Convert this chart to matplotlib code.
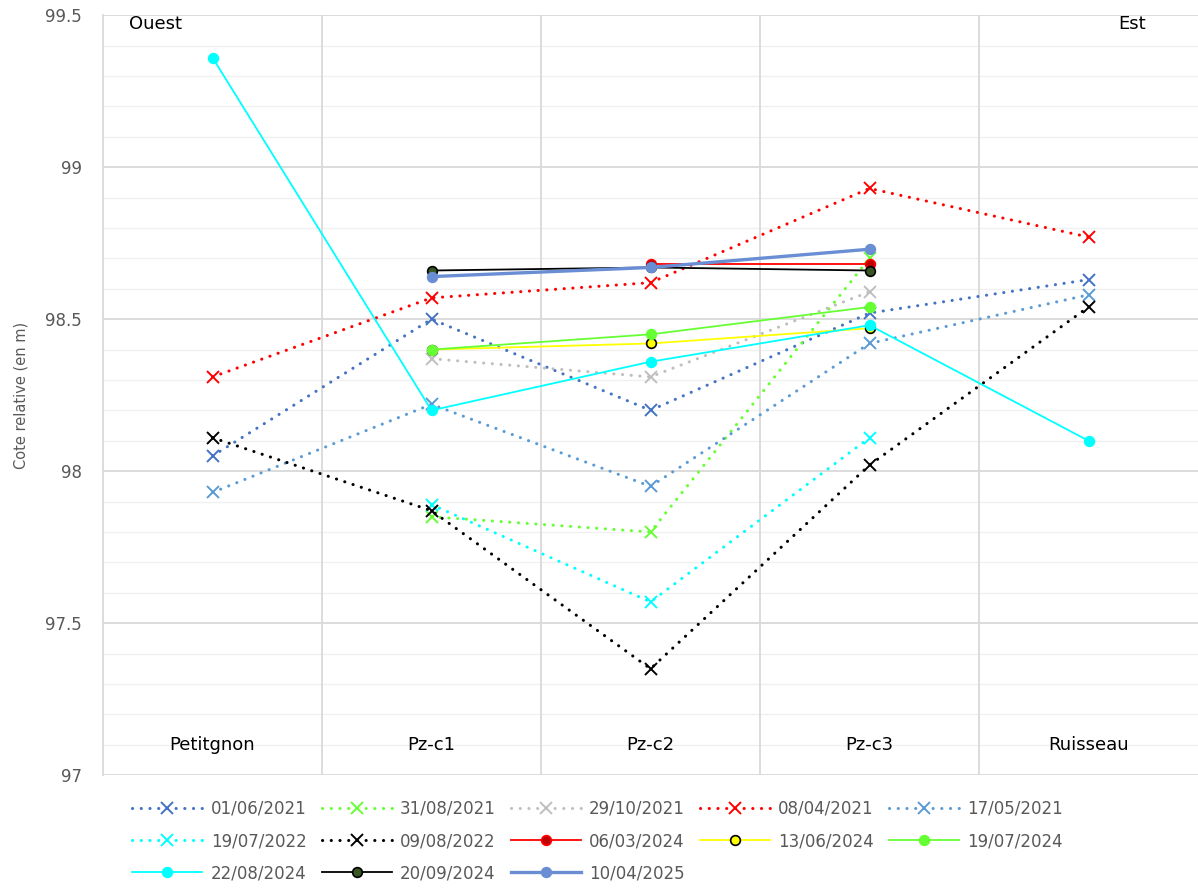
import matplotlib
matplotlib.use("Agg")
import matplotlib.pyplot as plt
import numpy as np

# piezometer profile, west -> east
stations = ["Petitgnon", "Pz-c1", "Pz-c2", "Pz-c3", "Ruisseau"]
nan = np.nan

dates = ["01/06/2021", "31/08/2021", "29/10/2021", "08/04/2021", "17/05/2021",
         "19/07/2022", "09/08/2022", "06/03/2024", "13/06/2024", "19/07/2024",
         "22/08/2024", "20/09/2024", "10/04/2025"]

s_010621 = [98.05, 98.50, 98.20, 98.52, 98.63]
s_310821 = [nan, 97.85, 97.80, 98.70, nan]
s_291021 = [nan, 98.37, 98.31, 98.59, nan]
s_080421 = [98.31, 98.57, 98.62, 98.93, 98.77]
s_170521 = [97.93, 98.22, 97.95, 98.42, 98.58]
s_190722 = [nan, 97.89, 97.57, 98.11, nan]
s_090822 = [98.11, 97.87, 97.35, 98.02, 98.54]
s_060324 = [nan, nan, 98.68, 98.68, nan]
s_130624 = [nan, 98.40, 98.42, 98.47, nan]
s_190724 = [nan, 98.40, 98.45, 98.54, nan]
s_220824 = [99.36, 98.20, 98.36, 98.48, 98.10]
s_200924 = [nan, 98.66, 98.67, 98.66, nan]
s_100425 = [nan, 98.64, 98.67, 98.73, nan]

series = [s_010621, s_310821, s_291021, s_080421, s_170521, s_190722, s_090822,
          s_060324, s_130624, s_190724, s_220824, s_200924, s_100425]

dot = (0, (0.05, 2.8))
styles = [
    dict(color="#4472C4", ls=dot, marker="x"),
    dict(color="#66FF33", ls=dot, marker="x"),
    dict(color="#BFBFBF", ls=dot, marker="x"),
    dict(color="#FF0000", ls=dot, marker="x"),
    dict(color="#5B9BD5", ls=dot, marker="x"),
    dict(color="#00FFFF", ls=dot, marker="x"),
    dict(color="#000000", ls=dot, marker="x"),
    dict(color="#FF0000", ls="-", marker="o", mfc="#C00000", mec="#FF0000"),
    dict(color="#FFFF00", ls="-", marker="o", mfc="#FFFF00", mec="#000000"),
    dict(color="#66FF33", ls="-", marker="o", mfc="#66FF33", mec="#66FF33"),
    dict(color="#00FFFF", ls="-", marker="o", mfc="#00FFFF", mec="#00FFFF"),
    dict(color="#000000", ls="-", marker="o", mfc="#375623", mec="#000000"),
    dict(color="#6A8ED4", ls="-", marker="o", mfc="#6A8ED4", mec="#6A8ED4"),
]

fig = plt.figure(figsize=(11.98, 8.90), dpi=100)
ax = fig.add_axes([0.086, 0.129, 0.914, 0.854])

x = np.arange(len(stations))
handles = []
for lab, ys, st in zip(dates, series, styles):
    ys = np.array(ys, dtype=float)
    m = ~np.isnan(ys)
    dotted = st["ls"] != "-"
    lw = 2.4 if lab == "10/04/2025" else (2.2 if dotted else 1.3)
    h, = ax.plot(x[m], ys[m], color=st["color"], linestyle=st["ls"], lw=lw,
                 marker=st["marker"], ms=8 if dotted else 7,
                 mew=1.4 if dotted else 1.2,
                 mfc=st.get("mfc", st["color"]), mec=st.get("mec", st["color"]),
                 dash_capstyle="round", label=lab, zorder=3)
    handles.append(h)

ax.set_xlim(-0.5, 4.5)
ax.set_ylim(97, 99.5)
ax.set_yticks([97, 97.5, 98, 98.5, 99, 99.5])
ax.set_yticklabels(["97", "97.5", "98", "98.5", "99", "99.5"])
ax.set_yticks(np.arange(97, 99.51, 0.1), minor=True)
ax.yaxis.grid(True, which="major", color="#D9D9D9", lw=1.3)
ax.yaxis.grid(True, which="minor", color="#F0F0F0", lw=1.0)
ax.set_xticks([])
for b in [0.5, 1.5, 2.5, 3.5]:
    ax.axvline(b, color="#D9D9D9", lw=1.3, zorder=1)
ax.tick_params(axis="y", which="both", length=0, labelsize=12, colors="#595959", pad=15)
for side in ["top", "right", "bottom"]:
    ax.spines[side].set_visible(False)
ax.spines["left"].set_color("#D9D9D9")
ax.spines["left"].set_linewidth(1.3)
ax.set_axisbelow(True)

ax.set_ylabel("Cote relative (en m)", fontsize=10.5, color="#595959")
ax.yaxis.set_label_coords(-0.068, 0.5)

for xi, name in zip(x, stations):
    ax.text(xi, 97.1, name, ha="center", va="center", fontsize=13, color="#000000")
ax.text(-0.26, 99.47, "Ouest", ha="center", va="center", fontsize=13)
ax.text(4.20, 99.47, "Est", ha="center", va="center", fontsize=13)

# legend filled row by row (5 per row)
ncol = 5
order = [i for k in range(ncol) for i in range(k, len(handles), ncol)]
fig.legend([handles[i] for i in order], [dates[i] for i in order],
           loc="upper center", bbox_to_anchor=(0.499, 0.118), ncol=ncol,
           frameon=False, fontsize=12, handlelength=4.2, columnspacing=0.9,
           handletextpad=0.5, labelspacing=0.85, labelcolor="#595959")

fig.savefig("out.png", dpi=100)
